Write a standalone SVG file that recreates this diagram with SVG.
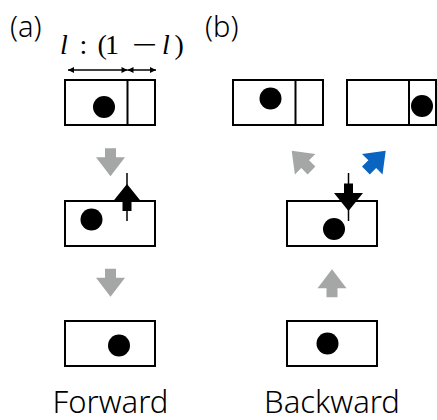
<svg xmlns="http://www.w3.org/2000/svg" width="437" height="420" viewBox="0 0 437 420">
<style>
.box{fill:#fff;stroke:#000;stroke-width:2}
.div{stroke:#000;stroke-width:2}
.dot{fill:#000}
.lbl{font-family:"Noto Sans","DejaVu Sans",sans-serif;font-weight:300;fill:#000}
.math{font-family:"Liberation Serif","Times New Roman",serif;font-size:28px;fill:#000}
.gray{fill:#a4a7a6}
.blue{fill:#0a64c2}
.dim{stroke:#000;stroke-width:1.5;fill:none}
</style>
<defs>
<path id="blk" d="M0,-14 L14.5,5 L5.5,5 L5.5,14 L-5.5,14 L-5.5,5 L-14.5,5 Z"/>
<marker id="ah" viewBox="0 0 10 10" refX="10" refY="5" markerWidth="7" markerHeight="6" markerUnits="userSpaceOnUse" orient="auto-start-reverse">
<path d="M0,0 L10,5 L0,10 Z" fill="#000"/>
</marker>
</defs>
<text class="lbl" x="10" y="37" font-size="29">(a)</text>
<text class="lbl" x="205" y="37" font-size="29">(b)</text>
<text class="math"><tspan x="60" y="53.5" font-style="italic">l</tspan><tspan x="79.5" y="53.5">:</tspan><tspan x="97.5" y="53.5">(</tspan><tspan x="105" y="53.5">1</tspan><tspan x="162" y="53.5" font-style="italic">l</tspan><tspan x="174.5" y="53.5">)</tspan></text>
<text class="math" text-anchor="middle" transform="translate(145,53.5) scale(1.6,1)">−</text>
<g id="dims">
<line class="dim" x1="68" y1="70" x2="127.5" y2="70" marker-start="url(#ah)" marker-end="url(#ah)"/>
<line class="dim" x1="127.5" y1="70" x2="156" y2="70" marker-start="url(#ah)" marker-end="url(#ah)"/>
</g>
<g id="a1"><rect class="box" x="65" y="80" width="90" height="45"/><line class="div" x1="127.5" y1="80" x2="127.5" y2="125"/><circle class="dot" cx="104" cy="107" r="11"/></g>
<g id="a2"><rect class="box" x="65" y="201" width="90" height="45"/><circle class="dot" cx="91.5" cy="219.5" r="11"/></g>
<g id="a3"><rect class="box" x="65" y="321" width="90" height="45"/><circle class="dot" cx="119" cy="345.5" r="11"/></g>
<g id="b1"><rect class="box" x="233" y="80" width="90" height="45"/><line class="div" x1="295.5" y1="80" x2="295.5" y2="125"/><circle class="dot" cx="270.5" cy="98.5" r="11"/></g>
<g id="b2"><rect class="box" x="347" y="80" width="89" height="45"/><line class="div" x1="409" y1="80" x2="409" y2="125"/><circle class="dot" cx="422" cy="106" r="11"/></g>
<g id="b3"><rect class="box" x="287" y="201" width="90" height="45"/><circle class="dot" cx="334" cy="229" r="11"/></g>
<g id="b4"><rect class="box" x="287" y="321" width="90" height="45"/><circle class="dot" cx="327.5" cy="343.5" r="11"/></g>
<g id="connectors">
<use href="#blk" class="gray" transform="translate(110.5,162.3) rotate(180)"/>
<use href="#blk" class="gray" transform="translate(110.5,282.8) rotate(180)"/>
<use href="#blk" class="gray" transform="translate(332,283.3)"/>
<use href="#blk" class="gray" transform="translate(301.6,160.6) rotate(-45)"/>
<use href="#blk" class="blue" transform="translate(375.8,160.6) rotate(45)"/>
<line x1="127" y1="173" x2="127" y2="221" stroke="#000" stroke-width="1.5"/>
<path d="M127,184 L141.5,202 L131.5,202 L131.5,211 L122.5,211 L122.5,202 L112.5,202 Z" fill="#000"/>
<line x1="348.5" y1="173" x2="348.5" y2="221" stroke="#000" stroke-width="1.5"/>
<path d="M344,183.5 L353,183.5 L353,193 L363,193 L348.5,211 L334,193 L344,193 Z" fill="#000"/>
</g>
<text class="lbl" x="110.5" y="413" font-size="31" text-anchor="middle">Forward</text>
<text class="lbl" x="332" y="413" font-size="31" text-anchor="middle">Backward</text>
</svg>
